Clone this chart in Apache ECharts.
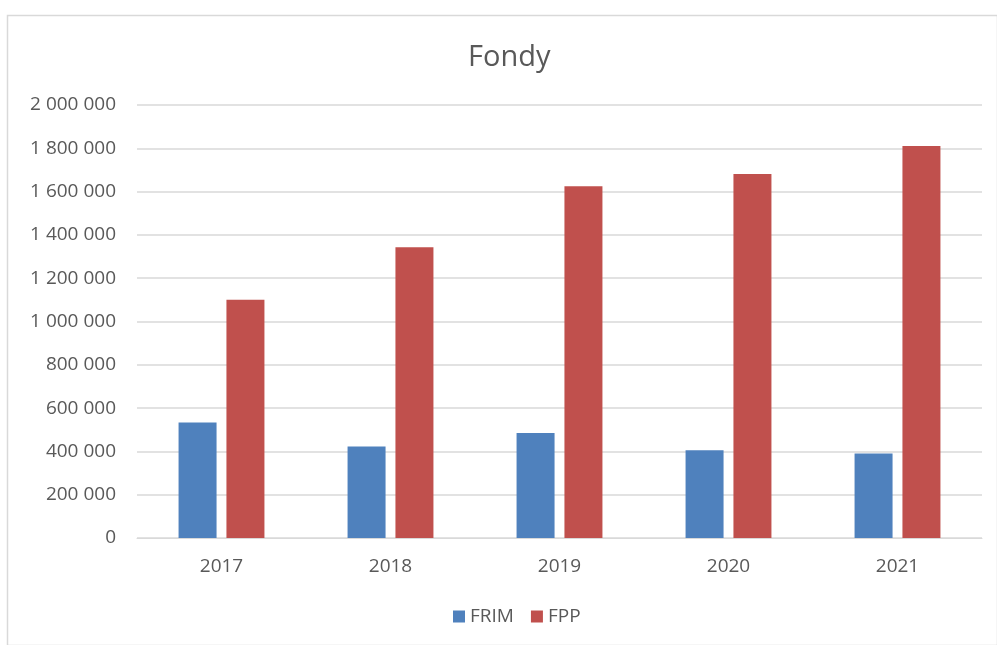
<!DOCTYPE html>
<html>
<head>
<meta charset="utf-8">
<script src="https://cdn.jsdelivr.net/npm/echarts@6/dist/echarts.min.js"></script>
<style>html,body{margin:0;padding:0;background:#fff}#c{width:997px;height:645px}</style>
</head>
<body>
<div id="c"></div>
<script>
var categories = ['2017', '2018', '2019', '2020', '2021'];
var frim = [533000, 423000, 485000, 405000, 390000];
var fpp = [1100000, 1343000, 1625000, 1681000, 1811000];
var seriesNames = ['FRIM', 'FPP'];

var chart = echarts.init(document.getElementById('c'));
function fmt(v) {
  return String(v).replace(/\B(?=(\d{3})+(?!\d))/g, ' ');
}
chart.setOption({
  animation: false,
  backgroundColor: '#fff',
  graphic: [{
    type: 'rect', left: 5, top: 13, silent: true,
    shape: { width: 990, height: 630 },
    style: { fill: 'none', stroke: '#d9d9d9', lineWidth: 1.5 }
  }],
  title: {
    text: 'Fondy', left: 463, top: 38,
    textStyle: { fontFamily: 'Open Sans', fontSize: 29, fontWeight: 'normal', color: '#595959' }
  },
  legend: {
    data: seriesNames, top: 602, left: 448, itemWidth: 12, itemHeight: 12, itemGap: 17,
    icon: 'rect',
    textStyle: { fontFamily: 'Open Sans', fontSize: 19, color: '#595959' }
  },
  grid: { left: 137, right: 15, top: 105, bottom: 107, containLabel: false },
  xAxis: {
    type: 'category', data: categories,
    axisLine: { lineStyle: { color: '#d9d9d9' } },
    axisTick: { show: false },
    axisLabel: { fontFamily: 'Open Sans', fontSize: 19, color: '#595959', margin: 19 }
  },
  yAxis: {
    type: 'value', min: 0, max: 2000000, interval: 200000,
    axisLine: { show: false }, axisTick: { show: false },
    splitLine: { lineStyle: { color: '#d9d9d9', width: 1.5 } },
    axisLabel: { fontFamily: 'Open Sans', fontSize: 19, color: '#595959', margin: 21, formatter: fmt }
  },
  series: [
    { name: seriesNames[0], type: 'bar', data: frim, barWidth: 38, barGap: '26%', itemStyle: { color: '#4F81BD' } },
    { name: seriesNames[1], type: 'bar', data: fpp, barWidth: 38, barGap: '26%', itemStyle: { color: '#C0504D' } }
  ]
});
</script>
</body>
</html>
